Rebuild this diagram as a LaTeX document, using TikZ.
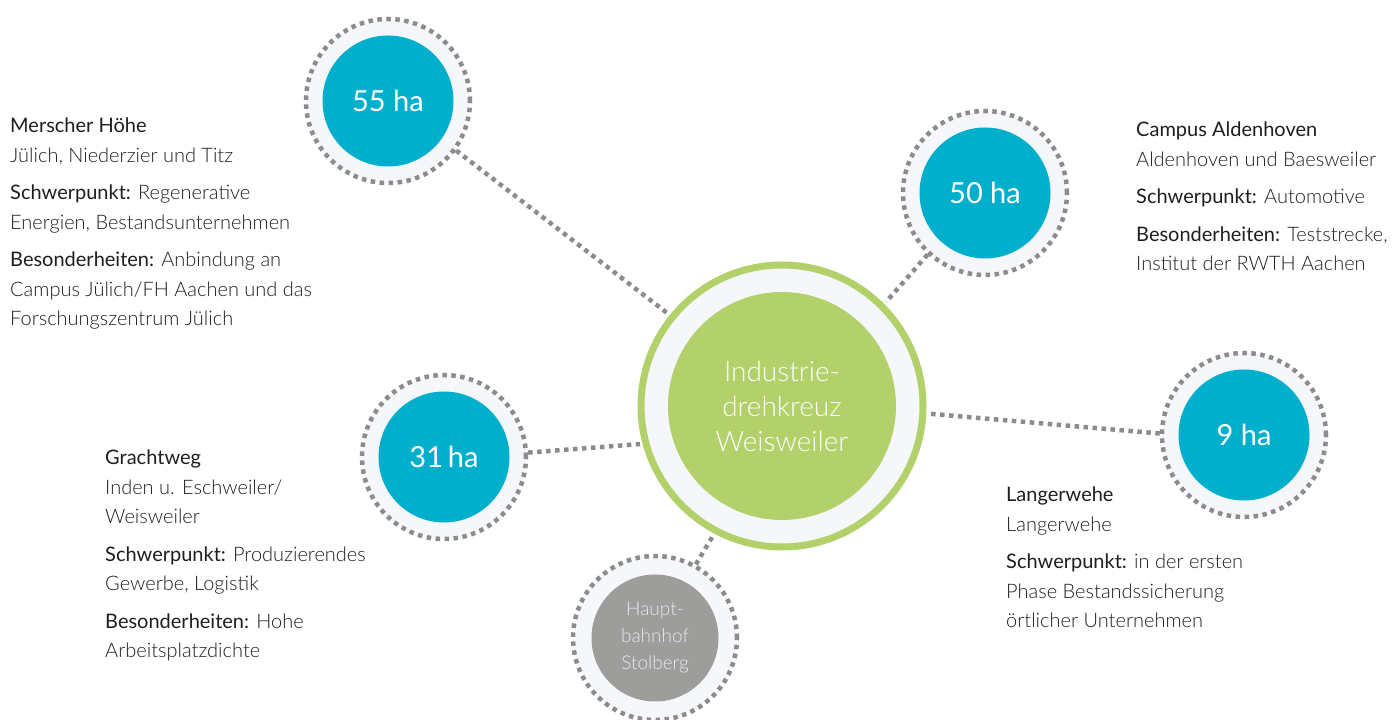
\documentclass[tikz,border=0pt]{standalone}
\usepackage{fontspec}
\setmainfont{Lato}[UprightFont={* Light},BoldFont={*}]
\newfontfamily\numfont{Lato}

\definecolor{areablue}{HTML}{00AFCB}
\definecolor{hubgreen}{HTML}{B2D16B}
\definecolor{dotgrey}{HTML}{8C8C8C}
\definecolor{halo}{HTML}{F5F7FA}
\definecolor{stationgrey}{HTML}{9D9D9C}
\definecolor{stationtext}{HTML}{E8E8E8}
\definecolor{infotext}{HTML}{1E1E1E}

\tikzset{
  dotring/.style={circle,inner sep=0,minimum size=164pt,fill=halo,draw=dotgrey,
    line width=4.5pt,dash pattern=on 4.5pt off 4.5pt},
  area/.style={circle,inner sep=0,minimum size=131pt,fill=areablue,text=white,
    font=\numfont\fontsize{29}{29}\selectfont},
  link/.style={draw=dotgrey,line width=4.5pt,dash pattern=on 4.5pt off 4.5pt},
  info/.style={anchor=north west,inner sep=0,align=left,text=infotext,
    font=\fontsize{20}{29.5}\selectfont},
}

\begin{document}
\begin{tikzpicture}[x=1pt,y=1pt]
  \useasboundingbox (0,0) rectangle (1398,720);

  % hub in the middle
  \node[circle,inner sep=0,minimum size=282pt,fill=halo,draw=hubgreen,line width=7pt,
    outer sep=6pt] (hub) at (782,314) {};
  \node[circle,inner sep=0,minimum size=228pt,fill=hubgreen,text=white,align=center,
    font=\fontsize{28}{35}\selectfont] (hubname) at (hub) {Industrie-\\drehkreuz\\Weisweiler};

  % areas around it
  \node[dotring] (s55) at (388,619) {};
  \node[area] (a55) at (s55) {55 ha};
  \node[dotring] (s50) at (985,527) {};
  \node[area] (a50) at (s50) {50 ha};
  \node[dotring] (s31) at (444,263) {};
  \node[area] (a31) at (s31) {31\,ha};
  \node[dotring] (s9) at (1244,285) {};
  \node[area] (a9) at (s9) {9 ha};
  \node[dotring] (hbf) at (655,82) {};
  \node[circle,inner sep=0,minimum size=127pt,fill=stationgrey,text=stationtext,align=center,
    font=\fontsize{19}{27}\selectfont] (hbfname) at (hbf) {Haupt-\\bahnhof\\Stolberg};

  % connectors
  \draw[link] (s55.-36) -- (hub.141);
  \draw[link] (s50.227) -- (hub.45);
  \draw[link] (s31.3) -- (hub.195);
  \draw[link] (s9.179) -- (hub.-3.6);
  \draw[link] (hbf.61) -- (hub.242);

  % descriptions
  \node[info] (tmerscher) at (10,602) {\textbf{Merscher Höhe}\\
    Jülich, Niederzier und Titz\\[8pt]
    \textbf{Schwerpunkt:} Regenerative\\
    Energien, Bestandsunternehmen\\[8pt]
    \textbf{Besonderheiten:} Anbindung an\\
    Campus Jülich/FH Aachen und das\\
    Forschungszentrum Jülich};
  \node[info] (tcampus) at (1136,598) {\textbf{Campus Aldenhoven}\\
    Aldenhoven und Baesweiler\\[8pt]
    \textbf{Schwerpunkt:} Automotive\\[8pt]
    \textbf{Besonderheiten:} Teststrecke,\\
    Institut der RWTH Aachen};
  \node[info] (tgracht) at (105,270) {\textbf{Grachtweg}\\
    Inden u. Eschweiler/\\
    Weisweiler\\[8pt]
    \textbf{Schwerpunkt:} Produzierendes\\
    Gewerbe, Logistik\\[8pt]
    \textbf{Besonderheiten:} Hohe\\
    Arbeitsplatzdichte};
  \node[info] (tlanger) at (1006,233) {\textbf{Langerwehe}\\
    Langerwehe\\[8pt]
    \textbf{Schwerpunkt:} in der ersten\\
    Phase Bestandssicherung\\
    örtlicher Unternehmen};
\end{tikzpicture}
\end{document}
